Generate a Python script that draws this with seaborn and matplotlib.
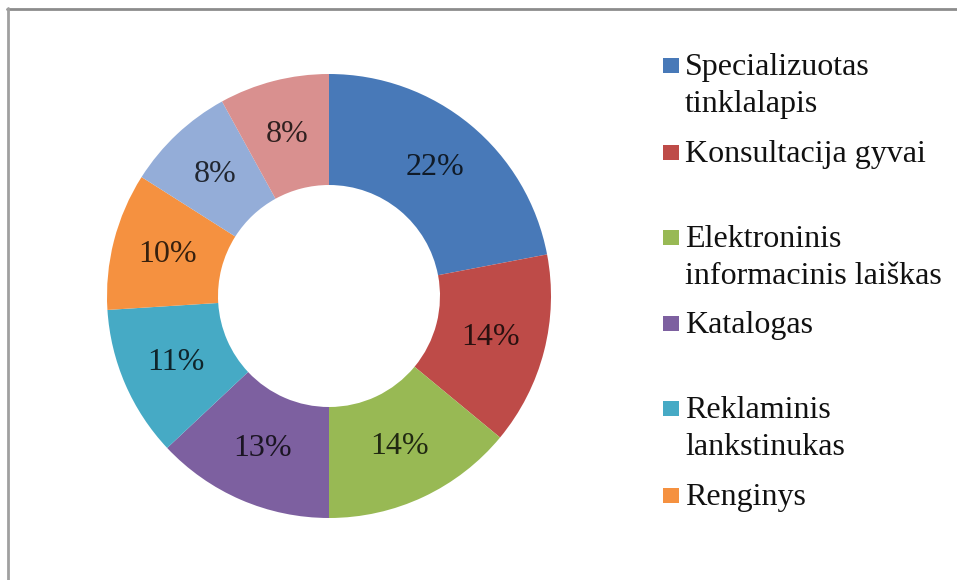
import matplotlib
matplotlib.use("Agg")
import matplotlib.pyplot as plt
from matplotlib.lines import Line2D
from matplotlib.patches import Rectangle
import seaborn as sns

# Share of each information channel (%)
categories = [
    "Specializuotas tinklalapis",
    "Konsultacija gyvai",
    "Elektroninis informacinis laiškas",
    "Katalogas",
    "Reklaminis lankstinukas",
    "Renginys",
    "",
    "",
]
shares = [22, 14, 14, 13, 11, 10, 8, 8]

# Legend lines (only the first six categories are listed)
legend_lines = [
    ["Specializuotas", "tinklalapis"],
    ["Konsultacija gyvai"],
    ["Elektroninis", "informacinis laiškas"],
    ["Katalogas"],
    ["Reklaminis", "lankstinukas"],
    ["Renginys"],
]

slice_colors = ["#4879B8", "#BE4B48", "#98B954", "#7D60A0",
                "#46AAC5", "#F59140", "#94ADD8", "#D9908F"]

sns.set_theme(style="white")
plt.rcParams["font.family"] = ["Liberation Serif", "DejaVu Serif"]

W, H = 957, 580
fig = plt.figure(figsize=(W / 100, H / 100), dpi=100)
fig.patch.set_facecolor("white")

palette = sns.color_palette(slice_colors)

# Donut: centre (329, 296) px, outer radius 222 px
cx, cy, r = 329, 296, 222
ax = fig.add_axes([(cx - r) / W, (H - cy - r) / H, 2 * r / W, 2 * r / H])
wedges, _, autotexts = ax.pie(
    shares,
    colors=palette,
    startangle=90,
    counterclock=False,
    radius=1.0,
    wedgeprops=dict(width=0.5, edgecolor="none", linewidth=0),
    autopct=lambda p: f"{p:.0f}%",
    pctdistance=0.75,
    textprops=dict(fontsize=23),
)
for t, c in zip(autotexts, palette):
    t.set_color(tuple(0.22 * v for v in c))
ax.set_xlim(-1, 1)
ax.set_ylim(-1, 1)
ax.set_aspect("equal")
ax.axis("off")

# Legend drawn as a column of colour squares and labels
def px(x, y):
    return x / W, 1 - y / H

first_baselines = [75, 162, 247, 333, 418, 505]
line_step = 37
for i, (lines, yb) in enumerate(zip(legend_lines, first_baselines)):
    x0, y0 = px(663, yb - 2)
    fig.patches.append(Rectangle((x0, y0), 16 / W, 15 / H,
                                 transform=fig.transFigure,
                                 facecolor=palette[i], edgecolor="none"))
    for k, line in enumerate(lines):
        tx, ty = px(685, yb + k * line_step)
        fig.text(tx, ty, line, fontsize=23, color="#111111",
                 ha="left", va="baseline")

# Thin grey frame along the top and left edges
fig.add_artist(Line2D([7 / W, 1], [1 - 9 / H, 1 - 9 / H],
                      transform=fig.transFigure, color="#8c8c8c", linewidth=2))
fig.add_artist(Line2D([8 / W, 8 / W], [0, 1 - 8 / H],
                      transform=fig.transFigure, color="#a0a0a0", linewidth=2))

fig.savefig("out.png", dpi=100, facecolor="white")
